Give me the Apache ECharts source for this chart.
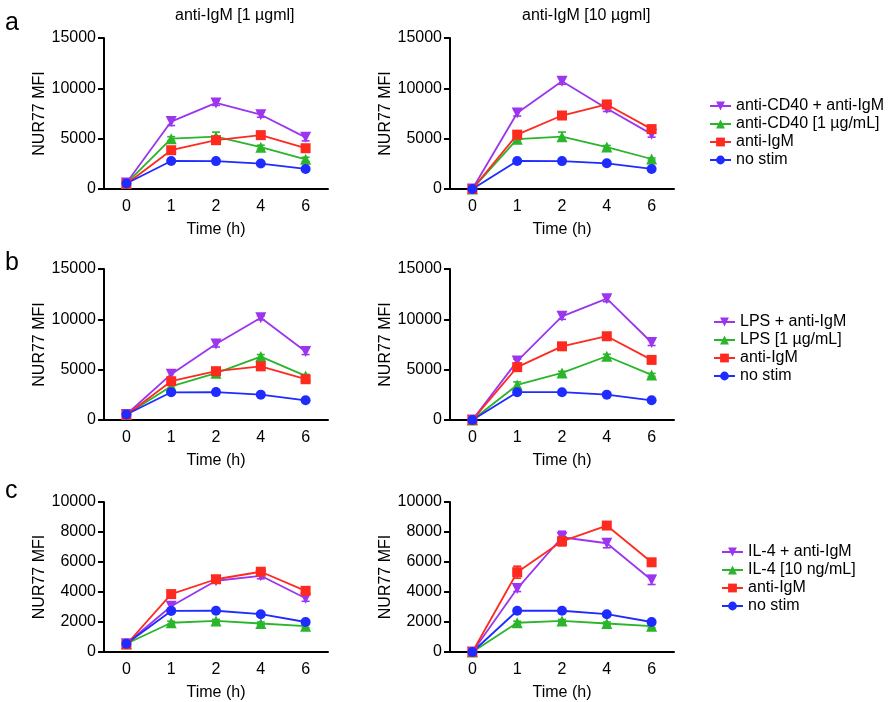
<!DOCTYPE html>
<html><head><meta charset="utf-8">
<script src="https://cdn.jsdelivr.net/npm/echarts@6/dist/echarts.min.js"></script>
<style>html,body{margin:0;padding:0;background:#fff}#c{width:892px;height:702px}</style>
</head><body><div id="c"></div>
<script>
// ---------- data ----------
const times = ['0', '1', '2', '4', '6'];
const titleLeft = 'anti-IgM [1 µgml]';
const titleRight = 'anti-IgM [10 µgml]';
const yName = 'NUR77 MFI';
const xName = 'Time (h)';
const panelLetters = ['a', 'b', 'c'];
const comboNames = ['anti-CD40 + anti-IgM', 'LPS + anti-IgM', 'IL-4 + anti-IgM'];
const stimNames = ['anti-CD40 [1 µg/mL]', 'LPS [1 µg/mL]', 'IL-4 [10 ng/mL]'];
const igmName = 'anti-IgM';
const noneName = 'no stim';
const yMax = [15000, 15000, 10000];
const yStep = [5000, 5000, 2000];

// row a, left (1 µg) / right (10 µg)
const a1Combo = [600, 6700, 8550, 7380, 5130];   const a1ComboErr = [100, 400, 250, 250, 350];
const a1Stim  = [550, 5000, 5200, 4150, 2950];   const a1StimErr  = [100, 200, 450, 200, 200];
const a1IgM   = [500, 3850, 4850, 5350, 4050];   const a1IgMErr   = [100, 250, 300, 200, 200];
const a1None  = [550, 2780, 2770, 2530, 1990];   const a1NoneErr  = [100, 100, 100, 100, 100];
const a2Combo = [0, 7550, 10700, 8000, 5450];    const a2ComboErr = [0, 300, 300, 300, 300];
const a2Stim  = [0, 4950, 5200, 4170, 2980];     const a2StimErr  = [0, 150, 450, 150, 100];
const a2IgM   = [0, 5400, 7300, 8400, 5950];     const a2IgMErr   = [0, 200, 150, 200, 150];
const a2None  = [0, 2780, 2770, 2550, 1990];     const a2NoneErr  = [0, 100, 100, 100, 100];
// row b
const b1Combo = [550, 4550, 7550, 10150, 6800];  const b1ComboErr = [100, 400, 300, 200, 300];
const b1Stim  = [550, 3350, 4650, 6300, 4380];   const b1StimErr  = [100, 200, 150, 200, 150];
const b1IgM   = [500, 3850, 4850, 5330, 4050];   const b1IgMErr   = [100, 200, 200, 250, 200];
const b1None  = [550, 2750, 2770, 2520, 1960];   const b1NoneErr  = [100, 100, 100, 100, 100];
const b2Combo = [0, 5850, 10300, 12050, 7700];   const b2ComboErr = [0, 200, 300, 300, 300];
const b2Stim  = [0, 3480, 4680, 6330, 4480];     const b2StimErr  = [0, 300, 150, 200, 150];
const b2IgM   = [0, 5250, 7320, 8320, 5970];     const b2IgMErr   = [0, 250, 200, 200, 150];
const b2None  = [0, 2760, 2760, 2520, 1960];     const b2NoneErr  = [0, 100, 100, 100, 100];
// row c
const c1Combo = [550, 3050, 4750, 5080, 3580];   const c1ComboErr = [100, 200, 150, 200, 200];
const c1Stim  = [550, 1950, 2070, 1900, 1720];   const c1StimErr  = [100, 100, 100, 100, 100];
const c1IgM   = [500, 3860, 4850, 5350, 4080];   const c1IgMErr   = [100, 200, 150, 200, 150];
const c1None  = [550, 2740, 2750, 2520, 2000];   const c1NoneErr  = [100, 100, 100, 100, 100];
const c2Combo = [0, 4230, 7650, 7250, 4800];     const c2ComboErr = [0, 200, 400, 300, 300];
const c2Stim  = [0, 1950, 2070, 1900, 1720];     const c2StimErr  = [0, 100, 100, 100, 100];
const c2IgM   = [0, 5320, 7380, 8430, 5980];     const c2IgMErr   = [0, 400, 300, 200, 150];
const c2None  = [0, 2750, 2750, 2520, 2000];     const c2NoneErr  = [0, 100, 100, 100, 100];

// ---------- styling / layout ----------
const FONT = '"Liberation Sans", Arial, Helvetica, sans-serif';
const COL = { combo: '#9b35ee', stim: '#2bb52b', igm: '#ff2a1f', none: '#1f2bff' };
const gridLeft = [104, 450];
const gridTop = [38, 269, 502];
const gridH = [151, 151, 150];
const gridW = 224;

const panels = [
  { row: 0, col: 0, combo: a1Combo, comboErr: a1ComboErr, stim: a1Stim, stimErr: a1StimErr, igm: a1IgM, igmErr: a1IgMErr, none: a1None, noneErr: a1NoneErr },
  { row: 0, col: 1, combo: a2Combo, comboErr: a2ComboErr, stim: a2Stim, stimErr: a2StimErr, igm: a2IgM, igmErr: a2IgMErr, none: a2None, noneErr: a2NoneErr },
  { row: 1, col: 0, combo: b1Combo, comboErr: b1ComboErr, stim: b1Stim, stimErr: b1StimErr, igm: b1IgM, igmErr: b1IgMErr, none: b1None, noneErr: b1NoneErr },
  { row: 1, col: 1, combo: b2Combo, comboErr: b2ComboErr, stim: b2Stim, stimErr: b2StimErr, igm: b2IgM, igmErr: b2IgMErr, none: b2None, noneErr: b2NoneErr },
  { row: 2, col: 0, combo: c1Combo, comboErr: c1ComboErr, stim: c1Stim, stimErr: c1StimErr, igm: c1IgM, igmErr: c1IgMErr, none: c1None, noneErr: c1NoneErr },
  { row: 2, col: 1, combo: c2Combo, comboErr: c2ComboErr, stim: c2Stim, stimErr: c2StimErr, igm: c2IgM, igmErr: c2IgMErr, none: c2None, noneErr: c2NoneErr }
];

const grids = [], xAxes = [], yAxes = [], series = [];
const axisLine = { show: true, lineStyle: { color: '#000', width: 2 } };
const txt = { color: '#000', fontSize: 16, fontFamily: FONT };

function errRender(color) {
  return function (params, api) {
    const x = api.value(0), y = api.value(1), e = api.value(2);
    if (!e) return null;
    const t = api.coord([x, y + e]);
    const b = api.coord([x, y - e]);
    const w = 4;
    const st = { stroke: color, lineWidth: 1.6 };
    return {
      type: 'group', children: [
        { type: 'line', shape: { x1: t[0], y1: t[1], x2: b[0], y2: b[1] }, style: st },
        { type: 'line', shape: { x1: t[0] - w, y1: t[1], x2: t[0] + w, y2: t[1] }, style: st },
        { type: 'line', shape: { x1: b[0] - w, y1: b[1], x2: b[0] + w, y2: b[1] }, style: st }
      ]
    };
  };
}

panels.forEach((p, i) => {
  grids.push({ left: gridLeft[p.col], top: gridTop[p.row], width: gridW, height: gridH[p.row], containLabel: false });
  xAxes.push({
    type: 'category', gridIndex: i, data: times, boundaryGap: true,
    axisLine: axisLine, axisTick: { show: false },
    axisLabel: Object.assign({ margin: 10 }, txt),
    name: xName, nameLocation: 'middle', nameGap: 33, nameTextStyle: txt
  });
  yAxes.push({
    type: 'value', gridIndex: i, min: 0, max: yMax[p.row], interval: yStep[p.row],
    axisLine: axisLine, axisTick: { show: true, length: 6, lineStyle: { color: '#000', width: 2 } },
    axisLabel: Object.assign({ margin: 8, formatter: v => String(v) }, txt), splitLine: { show: false },
    name: yName, nameLocation: 'middle', nameGap: 55, nameTextStyle: txt
  });
  const defs = [
    { name: comboNames[p.row], vals: p.combo, errs: p.comboErr, color: COL.combo, symbol: 'triangle', rot: 180, size: 11 },
    { name: stimNames[p.row], vals: p.stim, errs: p.stimErr, color: COL.stim, symbol: 'triangle', rot: 0, size: 11 },
    { name: igmName, vals: p.igm, errs: p.igmErr, color: COL.igm, symbol: 'rect', rot: 0, size: 10 },
    { name: noneName, vals: p.none, errs: p.noneErr, color: COL.none, symbol: 'circle', rot: 0, size: 10 }
  ];
  defs.forEach(d => {
    series.push({
      type: 'custom', xAxisIndex: i, yAxisIndex: i, silent: true,
      data: times.map((t, k) => [k, d.vals[k], d.errs[k]]),
      encode: { x: 0, y: 1 },
      renderItem: errRender(d.color)
    });
    series.push({
      type: 'line', name: d.name, xAxisIndex: i, yAxisIndex: i,
      data: d.vals, symbol: d.symbol, symbolRotate: d.rot, symbolSize: d.size,
      showAllSymbol: true, animation: false,
      lineStyle: { color: d.color, width: 1.8 }, itemStyle: { color: d.color, borderWidth: 0 }
    });
  });
});

const legendTop = [97, 313, 543];
const legendLeft = [709, 713, 721];
const legends = [0, 1, 2].map(r => ({
  orient: 'vertical', left: legendLeft[r], top: legendTop[r], padding: 0,
  itemWidth: 21, itemHeight: 11, itemGap: 0,
  textStyle: { color: '#000', fontSize: 16, fontFamily: FONT, lineHeight: 18 },
  data: [comboNames[r], stimNames[r], igmName, noneName]
}));

const graphics = [
  { type: 'text', left: 175, top: 8, style: { text: titleLeft, font: '16px ' + FONT, fill: '#000' } },
  { type: 'text', left: 522, top: 8, style: { text: titleRight, font: '16px ' + FONT, fill: '#000' } },
  { type: 'text', left: 5, top: 11, style: { text: panelLetters[0], font: '25px ' + FONT, fill: '#000' } },
  { type: 'text', left: 5, top: 251, style: { text: panelLetters[1], font: '25px ' + FONT, fill: '#000' } },
  { type: 'text', left: 5, top: 479, style: { text: panelLetters[2], font: '25px ' + FONT, fill: '#000' } }
];

const chart = echarts.init(document.getElementById('c'), null, { renderer: 'canvas' });
chart.setOption({
  animation: false,
  backgroundColor: '#fff',
  grid: grids, xAxis: xAxes, yAxis: yAxes,
  legend: legends, series: series, graphic: graphics
});
</script></body></html>
